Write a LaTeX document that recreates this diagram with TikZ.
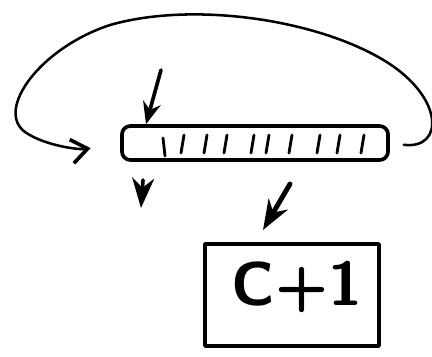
\documentclass[tikz,border=0pt]{standalone}
\usepackage{tikz}
\usetikzlibrary{arrows.meta, positioning, calc}

\begin{document}
\begin{tikzpicture}[
    x=0.025cm, y=-0.025cm,
    ink/.style={line width=2.6pt, line cap=round, line join=round},
    tape/.style={ink, draw, rectangle, rounded corners=6pt, minimum width=6.65cm, minimum height=0.85cm},
    tick/.style={ink, line width=2pt},
    pointer/.style={ink, -{Stealth[length=0.55cm, width=0.45cm]}},
    backarc/.style={ink, line width=1.8pt, -{Straight Barb[length=0.4cm, width=0.6cm, line width=2.6pt]}},
    drop/.style={ink, -{Stealth[length=0.75cm, width=0.55cm]}},
    result/.style={ink, draw, rectangle, minimum width=4.35cm, minimum height=2.55cm}
]
\useasboundingbox (0,0) rectangle (432,356);

% Tape
\node[tape] (tape) at (255,143) {};
\draw[tick] (163,138) -- (165,156);
\foreach \x in {182,205,225,252,267,290,318,338,362}
    \draw[tick] (\x+2,135) -- (\x-1,153);

% Head pointer
\coordinate (top) at (161,70);
\draw[pointer] (top) -- (tape.north west -| 146,0);

% Loop back
\draw[backarc, shorten <=0.35cm, shorten >=0.75cm] (tape.east)
    .. controls (445,150) and (445,95) .. (380,58)
    .. controls (310,18) and (190,2) .. (110,25)
    .. controls (40,48) and (-5,110) .. (25,132)
    .. controls (45,146) and (80,150) .. (tape.west);

% Outputs
\coordinate (outa) at (143,180);
\coordinate (enda) at (141,208);
\draw[drop] (outa) -- (enda);
\coordinate (outb) at (290,184);
\coordinate (endb) at (263,230);
\draw[drop, line width=3.5pt] (outb) -- (endb);

% Result
\node[result] (res) at (292,295) {};
\node[font=\fontsize{44}{44}\selectfont\bfseries\sffamily] (sum) at (297,287) {C+1};

\end{tikzpicture}
\end{document}
